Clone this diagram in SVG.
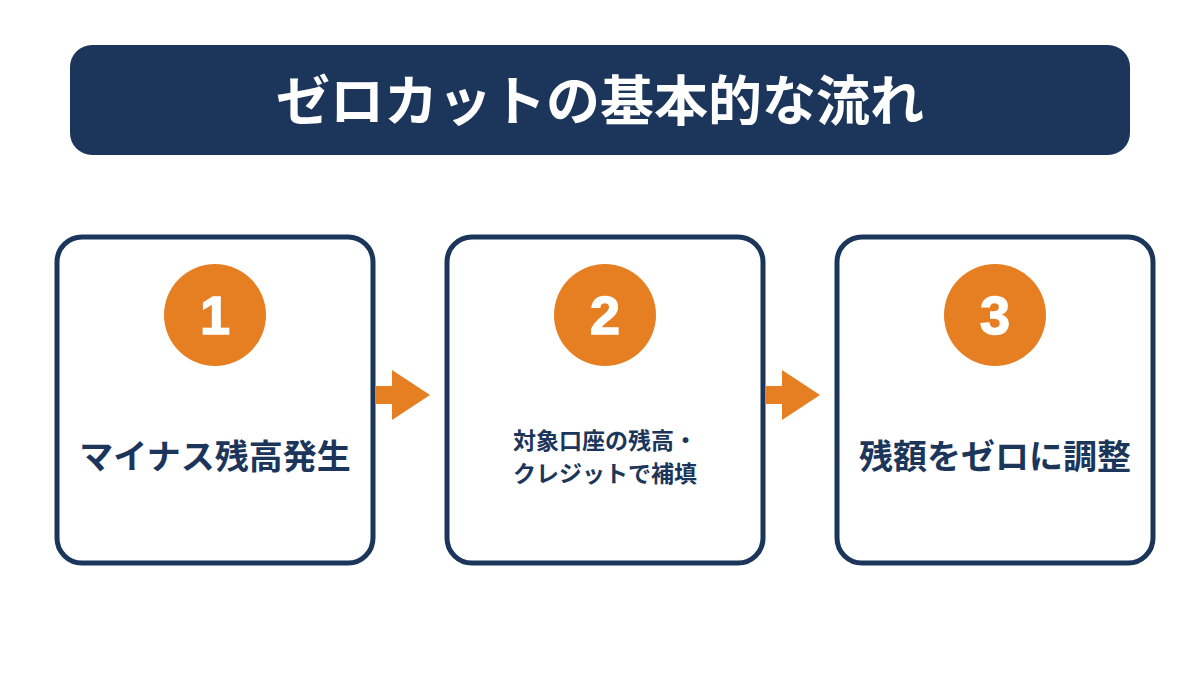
<svg xmlns="http://www.w3.org/2000/svg" width="1200" height="675" viewBox="0 0 1200 675">
<style>
.box{fill:#fff;stroke:#1c365b;stroke-width:5}
.num{fill:#e67e22}
.nt{fill:#fff;font-family:"Liberation Sans","Noto Sans CJK JP",sans-serif;font-weight:bold;font-size:54px;text-anchor:middle;stroke:#fff;stroke-width:1.5}
.lb{fill:#1c365b;font-family:"Noto Sans CJK JP",sans-serif;font-weight:bold;text-anchor:middle}
.ar{fill:#e67e22}
</style>
<rect width="1200" height="675" fill="#fff"/>
<g id="title">
<rect x="70" y="45" width="1060" height="110" rx="22" fill="#1c365b"/>
<text x="600" y="121" font-family="'Noto Sans CJK JP',sans-serif" font-weight="bold" font-size="54" fill="#fff" text-anchor="middle">ゼロカットの基本的な流れ</text>
</g>
<g id="step1">
<rect class="box" x="57" y="237" width="316" height="326" rx="25"/>
<circle class="num" cx="215" cy="315" r="51"/>
<text class="nt" x="215" y="334">1</text>
<text class="lb" x="215" y="469" font-size="34">マイナス残高発生</text>
</g>
<g id="step2">
<rect class="box" x="447" y="237" width="316" height="326" rx="25"/>
<circle class="num" cx="605" cy="315" r="51"/>
<text class="nt" x="605" y="334">2</text>
<text class="lb" x="605" y="449" font-size="23">対象口座の残高・</text>
<text class="lb" x="605" y="482" font-size="23">クレジットで補填</text>
</g>
<g id="step3">
<rect class="box" x="837" y="237" width="316" height="326" rx="25"/>
<circle class="num" cx="995" cy="315" r="51"/>
<text class="nt" x="995" y="334">3</text>
<text class="lb" x="995" y="469" font-size="34">残額をゼロに調整</text>
</g>
<g id="connectors">
<path class="ar" d="M376 386H392V370L430 395L392 420V404H376Z"/>
<path class="ar" d="M766 386H782V370L820 395L782 420V404H766Z"/>
</g>
</svg>
